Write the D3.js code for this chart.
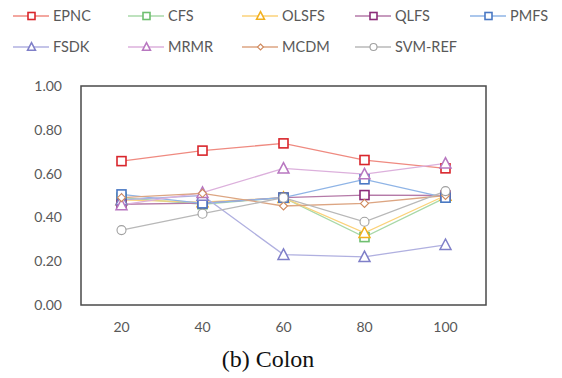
<!DOCTYPE html>
<html>
<head>
<meta charset="utf-8">
<script src="https://cdn.jsdelivr.net/npm/d3@7/dist/d3.min.js"></script>
<style>
  html, body { margin: 0; padding: 0; background: #fff; }
  svg { display: block; }
</style>
</head>
<body>
<svg id="chart" width="562" height="378"></svg>
<script>
// Feature counts along the x axis
const categories = ["20", "40", "60", "80", "100"];
const yTicks = [0, 0.2, 0.4, 0.6, 0.8, 1.0];

// Accuracy per method
const seriesNames = ["EPNC", "CFS", "OLSFS", "QLFS", "PMFS", "FSDK", "MRMR", "MCDM", "SVM-REF"];
const epnc   = [0.657, 0.705, 0.738, 0.662, 0.624];
const cfs    = [0.490, 0.460, 0.490, 0.310, 0.490];
const olsfs  = [0.480, 0.470, 0.490, 0.330, 0.500];
const qlfs   = [0.460, 0.465, 0.490, 0.502, 0.500];
const pmfs   = [0.505, 0.464, 0.490, 0.574, 0.490];
const fsdk   = [0.480, 0.500, 0.230, 0.220, 0.275];
const mrmr   = [0.457, 0.513, 0.624, 0.598, 0.647];
const mcdm   = [0.490, 0.510, 0.452, 0.464, 0.500];
const svmRef = [0.342, 0.417, 0.490, 0.380, 0.520];

const seriesValues = [epnc, cfs, olsfs, qlfs, pmfs, fsdk, mrmr, mcdm, svmRef];
const seriesColors = ["#d9262c", "#6fbf70", "#f2b01e", "#8c2d7a", "#4a78c4", "#7f7fc8", "#b877c0", "#cf8a5e", "#a0a0a0"];
const lineColors   = ["#ef8a80", "#a8d8a8", "#fbd27a", "#b57aa8", "#8fb4e6", "#b0b0e0", "#dcb0dc", "#dca582", "#b8b8b8"];
const seriesShapes = ["square", "square", "triangle", "square", "square", "triangle", "triangle", "diamond", "circle"];

const svg = d3.select("#chart");
const plot = { left: 81, top: 86, width: 405, height: 219 };

const x = d3.scaleBand().domain(categories).range([plot.left, plot.left + plot.width]);
const y = d3.scaleLinear().domain([0, 1]).range([plot.top + plot.height, plot.top]);
const cx = c => x(c) + x.bandwidth() / 2;

const textColor = "#595959";
const uiFont = "Lato, 'Open Sans', sans-serif";

// Plot frame
svg.append("rect")
  .attr("x", plot.left).attr("y", plot.top)
  .attr("width", plot.width).attr("height", plot.height)
  .attr("fill", "none").attr("stroke", "#4a4a4a").attr("stroke-width", 1.5);

// Y axis labels
const yAxis = d3.axisLeft(y).tickValues(yTicks).tickFormat(d3.format(".2f")).tickSize(0).tickPadding(19);
const yg = svg.append("g").attr("transform", `translate(${plot.left},0)`).call(yAxis);
yg.select(".domain").remove();
yg.selectAll("text").attr("fill", textColor).style("font-family", uiFont).style("font-size", "14px");

// X axis labels
const xAxis = d3.axisBottom(x).tickSize(0).tickPadding(17);
const xg = svg.append("g").attr("transform", `translate(0,${plot.top + plot.height})`).call(xAxis);
xg.select(".domain").remove();
xg.selectAll("text").attr("fill", textColor).style("font-family", uiFont).style("font-size", "14px");

// Marker drawing
function marker(g, shape, color, px, py, s) {
  if (shape === "square") {
    g.append("rect").attr("x", px - s / 2).attr("y", py - s / 2).attr("width", s).attr("height", s)
      .attr("fill", "#fff").attr("stroke", color).attr("stroke-width", 1.6);
  } else if (shape === "triangle") {
    const h = s * 0.95;
    g.append("path")
      .attr("d", `M${px},${py - h / 2 - 1}L${px + s / 2 + 0.5},${py + h / 2}L${px - s / 2 - 0.5},${py + h / 2}Z`)
      .attr("fill", "#fff").attr("stroke", color).attr("stroke-width", 1.5);
  } else if (shape === "diamond") {
    const r = s * 0.5;
    g.append("path")
      .attr("d", `M${px},${py - r}L${px + r},${py}L${px},${py + r}L${px - r},${py}Z`)
      .attr("fill", "#fff").attr("stroke", color).attr("stroke-width", 1.1);
  } else {
    g.append("circle").attr("cx", px).attr("cy", py).attr("r", s / 2)
      .attr("fill", "#fff").attr("stroke", color).attr("stroke-width", 1.1);
  }
}

const markerSize = { square: 9, triangle: 10, diamond: 8, circle: 9 };

// Lines
const line = d3.line().x((d, i) => cx(categories[i])).y(d => y(d));
seriesValues.forEach((vals, k) => {
  svg.append("path").datum(vals).attr("d", line)
    .attr("fill", "none").attr("stroke", lineColors[k]).attr("stroke-width", 1.3);
});

// Markers (drawn after lines)
seriesValues.forEach((vals, k) => {
  const g = svg.append("g");
  vals.forEach((v, i) => marker(g, seriesShapes[k], seriesColors[k], cx(categories[i]), y(v), markerSize[seriesShapes[k]]));
});

// Legend
const legendX = [13, 128, 242, 355, 470];
const legendY = [16, 47];
seriesNames.forEach((name, k) => {
  const col = k % 5, row = Math.floor(k / 5);
  const lx = legendX[col], ly = legendY[row];
  const g = svg.append("g");
  g.append("line").attr("x1", lx).attr("x2", lx + 36).attr("y1", ly).attr("y2", ly)
    .attr("stroke", lineColors[k]).attr("stroke-width", 1.3);
  const s = seriesShapes[k] === "diamond" ? 6 : 7;
  marker(g, seriesShapes[k], seriesColors[k], lx + 18.5, ly, s);
  g.append("text").attr("x", lx + 40).attr("y", ly).attr("dy", "0.35em")
    .attr("fill", textColor).style("font-family", uiFont).style("font-size", "14.5px").text(name);
});

// Caption
svg.append("text").attr("x", 268).attr("y", 367).attr("text-anchor", "middle")
  .attr("fill", "#111").style("font-family", "'Liberation Serif', 'DejaVu Serif', serif")
  .style("font-size", "24px").text("(b) Colon");
</script>
</body>
</html>
